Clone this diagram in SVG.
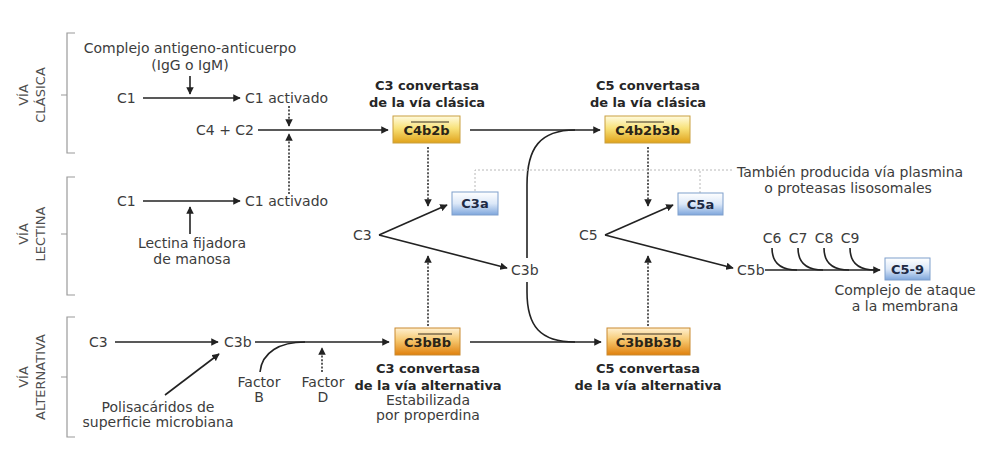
<svg xmlns="http://www.w3.org/2000/svg" width="988" height="451" viewBox="0 0 988 451">
<style>
text{font-family:"DejaVu Sans","Liberation Sans",sans-serif;font-size:14px;fill:#3c3c3c}
.t{font-weight:bold;font-size:13px;fill:#262626;text-anchor:middle}
.c{text-anchor:middle}
.e{text-anchor:end}
.bx{font-weight:bold;font-size:13px;fill:#2a2418;text-anchor:middle}
.bb{font-weight:bold;font-size:13px;fill:#1e2a44;text-anchor:middle}
.side{font-size:13px;fill:#505050;text-anchor:middle}
.ln{fill:none;stroke:#222;stroke-width:1.6}
.ar{fill:none;stroke:#222;stroke-width:1.6;marker-end:url(#ah)}
.dt{fill:none;stroke:#333;stroke-width:1.6;stroke-dasharray:2 1.6;marker-end:url(#ah)}
.gd{fill:none;stroke:#b8b8b8;stroke-width:1;stroke-dasharray:2 2}
.br{fill:none;stroke:#9a9a9a;stroke-width:1.2}
.ol{stroke:#3a3020;stroke-width:1}
</style>
<defs>
<marker id="ah" viewBox="0 0 10 10" refX="9" refY="5" markerWidth="7.5" markerHeight="7.5" markerUnits="userSpaceOnUse" orient="auto">
<path d="M0,0 L10,5 L0,10 z" fill="#222"/>
</marker>
<linearGradient id="gy" x1="0" y1="0" x2="0" y2="1">
<stop offset="0" stop-color="#fffbe0"/><stop offset="0.45" stop-color="#f8e27a"/><stop offset="1" stop-color="#e0a21a"/>
</linearGradient>
<linearGradient id="go" x1="0" y1="0" x2="0" y2="1">
<stop offset="0" stop-color="#fff0d0"/><stop offset="0.45" stop-color="#f6c870"/><stop offset="1" stop-color="#e0800c"/>
</linearGradient>
<linearGradient id="gb" x1="0" y1="0" x2="0" y2="1">
<stop offset="0" stop-color="#ffffff"/><stop offset="0.5" stop-color="#dce8f8"/><stop offset="1" stop-color="#7ea6dc"/>
</linearGradient>
</defs>
<rect width="988" height="451" fill="#ffffff"/>

<g id="brackets">
<path class="br" d="M75,33 L67,33 L67,153 L75,153 M67,95 L61,95"/>
<path class="br" d="M75,177 L67,177 L67,295 L75,295 M67,234 L61,234"/>
<path class="br" d="M75,317 L67,317 L67,437 L75,437 M67,377 L61,377"/>
<text class="side" transform="translate(28,95) rotate(-90)">VÍA</text>
<text class="side" transform="translate(45,95) rotate(-90)">CLÁSICA</text>
<text class="side" transform="translate(28,234) rotate(-90)">VÍA</text>
<text class="side" transform="translate(45,234) rotate(-90)">LECTINA</text>
<text class="side" transform="translate(28,377) rotate(-90)">VÍA</text>
<text class="side" transform="translate(45,377) rotate(-90)">ALTERNATIVA</text>
</g>

<g id="connectors">
<path class="ar" d="M190,76 L190,94"/>
<path class="ar" d="M143,98 L240,98"/>
<path class="dt" d="M289,106 L289,126"/>
<path class="ar" d="M258,130 L388,130"/>
<path class="dt" d="M289,194 L289,134"/>
<path class="ar" d="M143,201 L240,201"/>
<path class="ar" d="M190,234 L190,207"/>
<path class="ar" d="M470,130 L600,130"/>
<path class="ln" d="M527,258 L527,185 C527,148 540,130 575,130"/>
<path class="ln" d="M527,282 L527,292 C527,326 540,342 575,342"/>
<path class="dt" d="M428,147 L428,206"/>
<path class="dt" d="M648,147 L648,206"/>
<path class="dt" d="M428,326 L428,256"/>
<path class="dt" d="M648,326 L648,256"/>
<path class="ar" d="M379,235 L447,205"/>
<path class="ar" d="M379,235 L507,268"/>
<path class="ar" d="M605,235 L673,205"/>
<path class="ar" d="M605,235 L733,268"/>
<path class="ar" d="M765,270 L880,270"/>
<path class="ln" d="M772,248 C772,262 780,270 797,270 M798,248 C798,262 806,270 823,270 M824,248 C824,262 832,270 849,270 M850,248 C850,262 858,270 875,270"/>
<path class="gd" d="M475,191 L475,170 L734,170 M700,193 L700,170"/>
<path class="ar" d="M115,342 L218,342"/>
<path class="ar" d="M255,342 L389,342"/>
<path class="ln" d="M260,372 C262,352 280,342 305,342"/>
<path class="dt" d="M322,372 L322,348"/>
<path class="ar" d="M165,395 L219,354"/>
<path class="ar" d="M470,342 L601,342"/>
</g>

<g id="classic-labels">
<text class="c" x="190" y="53">Complejo antigeno-anticuerpo</text>
<text class="c" x="190" y="70">(IgG o IgM)</text>
<text x="117" y="103">C1</text>
<text x="245" y="103">C1 activado</text>
<text class="e" x="254" y="135">C4 + C2</text>
</g>

<g id="lectin-labels">
<text x="117" y="206">C1</text>
<text x="245" y="206">C1 activado</text>
<text class="c" x="192" y="248">Lectina fijadora</text>
<text class="c" x="192" y="264">de manosa</text>
</g>

<g id="alt-labels">
<text x="89" y="347">C3</text>
<text x="224" y="347">C3b</text>
<text class="c" x="259" y="387">Factor</text>
<text class="c" x="259" y="402">B</text>
<text class="c" x="323" y="387">Factor</text>
<text class="c" x="323" y="402">D</text>
<text class="c" x="158" y="412">Polisacáridos de</text>
<text class="c" x="158" y="427">superficie microbiana</text>
</g>

<g id="c3-conv-classic">
<text class="t" x="427" y="90">C3 convertasa</text>
<text class="t" x="427" y="107">de la vía clásica</text>
<rect x="393" y="116" width="67" height="27" fill="url(#gy)" stroke="#c9a040" stroke-width="1"/>
<line class="ol" x1="411" y1="122" x2="449" y2="122"/>
<text class="bx" x="426.5" y="135">C4b2b</text>
</g>

<g id="c5-conv-classic">
<text class="t" x="648" y="90">C5 convertasa</text>
<text class="t" x="648" y="107">de la vía clásica</text>
<rect x="605" y="116" width="85" height="27" fill="url(#gy)" stroke="#c9a040" stroke-width="1"/>
<line class="ol" x1="626" y1="122" x2="664" y2="122"/>
<text class="bx" x="647.5" y="135">C4b2b3b</text>
</g>

<g id="c3-split">
<text x="353" y="240">C3</text>
<text x="511" y="275">C3b</text>
</g>

<g id="c3a">
<rect x="452" y="192" width="46" height="23" fill="url(#gb)" stroke="#7f9fcc" stroke-width="1"/>
<text class="bb" x="475" y="208">C3a</text>
</g>

<g id="c5-split">
<text x="579" y="240">C5</text>
<text x="737" y="275">C5b</text>
</g>

<g id="c5a">
<rect x="678" y="193" width="45" height="22" fill="url(#gb)" stroke="#7f9fcc" stroke-width="1"/>
<text class="bb" x="700.5" y="209">C5a</text>
</g>

<g id="plasmin-note">
<text x="737" y="177">También producida vía plasmina</text>
<text class="c" x="848" y="193">o proteasas lisosomales</text>
</g>

<g id="terminal">
<text class="c" x="772" y="243">C6</text>
<text class="c" x="798" y="243">C7</text>
<text class="c" x="824" y="243">C8</text>
<text class="c" x="850" y="243">C9</text>
</g>

<g id="c5-9">
<rect x="885" y="258" width="45" height="22" fill="url(#gb)" stroke="#7f9fcc" stroke-width="1"/>
<text class="bb" x="907.5" y="274">C5-9</text>
<text class="c" x="905" y="295">Complejo de ataque</text>
<text class="c" x="905" y="311">a la membrana</text>
</g>

<g id="c3-conv-alt">
<rect x="395" y="328" width="65" height="27" fill="url(#go)" stroke="#c98a30" stroke-width="1"/>
<line class="ol" x1="418" y1="334" x2="452" y2="334"/>
<text class="bx" x="427.5" y="347">C3bBb</text>
<text class="t" x="428" y="373">C3 convertasa</text>
<text class="t" x="428" y="390">de la vía alternativa</text>
<text class="c" x="428" y="405">Estabilizada</text>
<text class="c" x="428" y="420">por properdina</text>
</g>

<g id="c5-conv-alt">
<rect x="607" y="328" width="83" height="27" fill="url(#go)" stroke="#c98a30" stroke-width="1"/>
<line class="ol" x1="622" y1="334" x2="682" y2="334"/>
<text class="bx" x="648.5" y="347">C3bBb3b</text>
<text class="t" x="648" y="373">C5 convertasa</text>
<text class="t" x="648" y="390">de la vía alternativa</text>
</g>
</svg>
